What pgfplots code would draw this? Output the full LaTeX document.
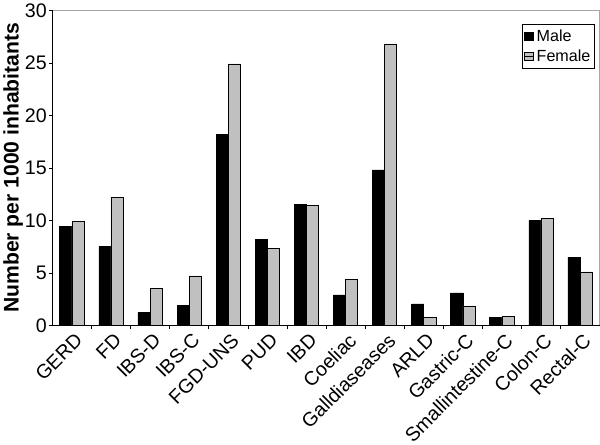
\documentclass[border=0pt]{standalone}
\usepackage{pgfplots}
\pgfplotsset{compat=1.18}
\usepackage{fontspec}
\setmainfont{Liberation Sans}
\definecolor{femgray}{RGB}{192,192,192}
\begin{document}
\begin{tikzpicture}
\begin{axis}[
  scale only axis,
  width=542bp, height=312bp,
  xmin=-0.5, xmax=13.5,
  ymin=0, ymax=30,
  ytick={0,5,...,30},
  xtick={0,...,13},
  xticklabels={GERD,FD,IBS-D,IBS-C,FGD-UNS,PUD,IBD,Coeliac,Galldiaseases,ARLD,Gastric-C,Smallintestine-C,Colon-C,Rectal-C},
  minor xtick={0.5,1.5,...,12.5},
  xtick pos=bottom, ytick pos=left,
  major x tick style={draw=none},
  minor x tick style={black, line width=0.5pt},
  minor tick length=4bp,
  x tick label style={font=\fontsize{19.5}{19.5}\selectfont, rotate=45, anchor=north east, inner sep=1pt, yshift=-3bp},
  y tick label style={font=\fontsize{19.5}{19.5}\selectfont, xshift=1bp},
  /pgf/number format/assume math mode=true,
  ytick align=outside,
  major tick length=3bp,
  y tick style={black, line width=0.5pt},
  axis line style={gray!70, line width=0.6pt},
  ylabel={\fontsize{21}{21}\selectfont\bfseries Number per 1000 inhabitants},
  ylabel style={yshift=-5bp},
  ybar=0pt,
  bar width=0.31,
  legend style={at={(0.991,0.955)}, anchor=north east, draw=black, line width=0.6pt,
    font=\fontsize{16}{18}\selectfont, inner xsep=2pt, inner ysep=3pt, row sep=3pt, cells={anchor=west}},
  legend image code/.code={\draw[#1, line width=0.4pt] (0bp,-4bp) rectangle (8.5bp,4.5bp); \path (0bp,0bp) -- (10bp,0bp);},
  after end axis/.code={
    \draw[black, line width=0.8pt] (rel axis cs:0,1) -- (rel axis cs:0,0) -- (rel axis cs:1,0);
  },
]
\addplot[fill=black, draw=black, line width=0.5pt] coordinates {
(0,9.4) (1,7.5) (2,1.2) (3,1.9) (4,18.2) (5,8.2) (6,11.5) (7,2.9) (8,14.8) (9,2.05) (10,3.1) (11,0.75) (12,10.0) (13,6.5)};
\addplot[fill=femgray, draw=black, line width=0.5pt] coordinates {
(0,9.9) (1,12.2) (2,3.5) (3,4.7) (4,24.9) (5,7.3) (6,11.4) (7,4.4) (8,26.8) (9,0.75) (10,1.85) (11,0.85) (12,10.2) (13,5.1)};
\legend{Male,Female}
\end{axis}
\end{tikzpicture}
\end{document}
